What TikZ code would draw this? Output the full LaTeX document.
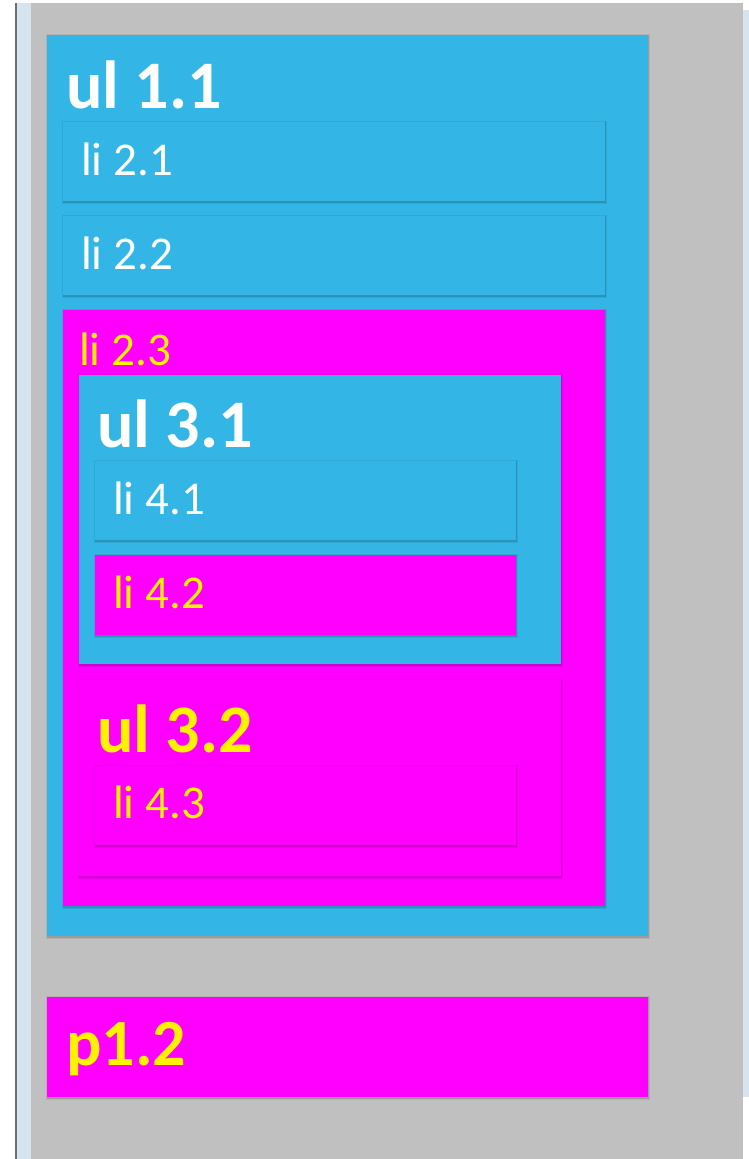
\documentclass[tikz,border=0pt]{standalone}
\usepackage{fontspec}
\setmainfont{Carlito}
\definecolor{holo}{HTML}{33B5E5}
\definecolor{mag}{HTML}{FF00FF}
\definecolor{ylw}{HTML}{FFF200}
\definecolor{bg}{HTML}{C0C0C0}
\definecolor{strip}{HTML}{D6E4F0}
\definecolor{edge}{HTML}{6E6E6E}
\newcommand\mybox[5]{%
  \fill[black,opacity=0.07] (#1-1,#2-1) rectangle (#3+2,#4+3);
  \fill[black,opacity=0.12] (#1,#2) rectangle (#3+1,#4+1.5);
  \fill[#5] (#1,#2) rectangle (#3,#4);}
\tikzset{
  big/.style={anchor=base west,inner sep=0pt,font=\fontsize{68}{80}\selectfont\bfseries},
  small/.style={anchor=base west,inner sep=0pt,font=\fontsize{47}{56}\selectfont},
}
\begin{document}
\begin{tikzpicture}[x=1pt,y=-1pt]
\useasboundingbox (0,0) rectangle (749,1159);
\fill[white] (0,0) rectangle (749,1159);
\fill[bg] (31,3) rectangle (743,1159);
\fill[strip] (16,3) rectangle (31,1159);
\fill[edge] (15,3) rectangle (16.5,1159);
\fill[strip] (743,10) rectangle (749,1097);
% ul 1.1
\mybox{47}{35}{648}{936}{holo}
\node[big,text=white] (ul11) at (66,108) {ul 1.1};
\mybox{63}{122}{605}{201}{holo}
\node[small,text=white] (li21) at (81,175) {li 2.1};
\mybox{63}{216}{605}{295}{holo}
\node[small,text=white] (li22) at (81,269) {li 2.2};
\mybox{63}{310}{605}{906}{mag}
\node[small,text=ylw] (li23) at (79,365) {li 2.3};
% ul 3.1
\mybox{79}{375}{561}{664}{holo}
\node[big,text=white] (ul31) at (97,447) {ul 3.1};
\mybox{95}{461}{516}{540}{holo}
\node[small,text=white] (li41) at (113,514) {li 4.1};
\mybox{95}{555}{516}{635}{mag}
\node[small,text=ylw] (li42) at (113,608) {li 4.2};
% ul 3.2
\mybox{79}{680}{561}{876}{mag}
\node[big,text=ylw] (ul32) at (97,752) {ul 3.2};
\mybox{95}{766}{516}{845}{mag}
\node[small,text=ylw] (li43) at (113,818) {li 4.3};
% p1.2
\mybox{47}{997}{648}{1097}{mag}
\node[big,font=\fontsize{66}{78}\selectfont\bfseries,text=ylw] (p12) at (66,1065) {p1.2};
\end{tikzpicture}
\end{document}
